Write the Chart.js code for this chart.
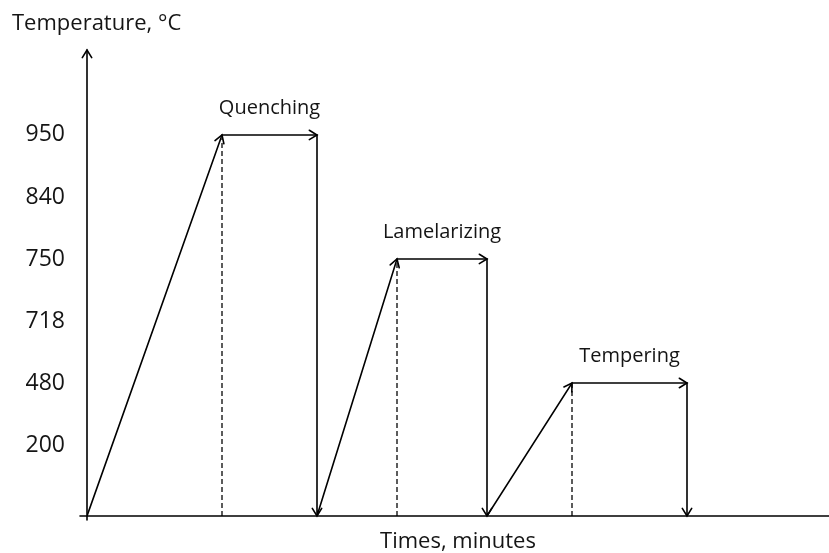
<!DOCTYPE html>
<html><head><meta charset="utf-8">
<script src="https://cdn.jsdelivr.net/npm/chart.js@4.4.0/dist/chart.umd.min.js"></script>
<style>html,body{margin:0;padding:0;background:#fff;}#wrap{width:829px;height:553px;position:relative;}</style>
</head><body><div id="wrap"><canvas id="c"></canvas></div>
<script>
// ---- data ----
const tickTemps = [200, 480, 718, 750, 840, 950];          // y tick labels, °C
const stageNames = ['Quenching', 'Lamelarizing', 'Tempering'];
const stageTemps = [950, 750, 480];                         // soak temperature
const soakStart = [27, 62, 97];                             // minutes (schematic)
const soakEnd = [46, 80, 120];
const profileTimes = [0, 27, 46, 46, 62, 80, 80, 97, 120, 120];
const profileTemps = [0, 950, 950, 0, 750, 750, 0, 480, 480, 0];

// ---- scale helpers (schematic, non-proportional temperature axis) ----
const Y_MIN = -0.145, Y_MAX = 7.37, X_MAX = 148.4;
function level(t) {
  const kt = [0].concat(tickTemps);
  const kl = [Y_MIN].concat(tickTemps.map((_, i) => i + 1));
  for (let i = 0; i < kt.length - 1; i++) {
    if (t <= kt[i + 1]) return kl[i] + (t - kt[i]) / (kt[i + 1] - kt[i]) * (kl[i + 1] - kl[i]);
  }
  return kl[kl.length - 1];
}
const TXT = '#151515';
const FONT = '"Open Sans", sans-serif';

const profileData = profileTimes.map((t, i) => ({x: t, y: level(profileTemps[i])}));
const dashData = [];
soakStart.forEach((t, i) => {
  dashData.push({x: t, y: level(0)}, {x: t, y: level(stageTemps[i])}, {x: t, y: null});
});

function arrowHead(ctx, x1, y1, x2, y2, L, s) {
  const a = Math.atan2(y2 - y1, x2 - x1);
  ctx.beginPath();
  ctx.moveTo(x2 - L * Math.cos(a - s), y2 - L * Math.sin(a - s));
  ctx.lineTo(x2, y2);
  ctx.lineTo(x2 - L * Math.cos(a + s), y2 - L * Math.sin(a + s));
  ctx.stroke();
}

const diagram = {
  id: 'diagram',
  afterDatasetsDraw(chart) {
    const ctx = chart.ctx, xs = chart.scales.x, ys = chart.scales.y;
    ctx.save();
    ctx.strokeStyle = '#000';
    ctx.lineWidth = 1.6;
    ctx.lineCap = 'round';
    // axes
    const x0 = xs.getPixelForValue(0), yb = ys.getPixelForValue(Y_MIN);
    ctx.beginPath();
    ctx.moveTo(x0 - 7, yb); ctx.lineTo(chart.width, yb);
    ctx.moveTo(x0, yb + 4); ctx.lineTo(x0, ys.top);
    ctx.stroke();
    arrowHead(ctx, x0, yb, x0, ys.top, 9, 0.55);
    // arrowheads on profile segments
    const pts = chart.getDatasetMeta(1).data;
    for (let i = 1; i < pts.length; i++) {
      arrowHead(ctx, pts[i - 1].x, pts[i - 1].y, pts[i].x, pts[i].y, 9, 0.55);
    }
    // stage labels
    ctx.fillStyle = TXT;
    ctx.font = '20px ' + FONT;
    ctx.textAlign = 'center';
    ctx.textBaseline = 'middle';
    stageNames.forEach((n, i) => {
      const cx = xs.getPixelForValue((soakStart[i] + soakEnd[i]) / 2);
      const cy = ys.getPixelForValue(level(stageTemps[i])) - 27;
      ctx.fillText(n, cx, cy);
    });
    ctx.restore();
  }
};

new Chart(document.getElementById('c'), {
  type: 'line',
  data: {
    datasets: [
      {data: dashData, borderColor: '#333', borderWidth: 1.6, borderDash: [5, 3], pointRadius: 0, spanGaps: false},
      {data: profileData, borderColor: '#000', borderWidth: 1.6, pointRadius: 0, tension: 0}
    ]
  },
  options: {
    responsive: true, maintainAspectRatio: false, animation: false,
    layout: {padding: {left: 12, right: 0, top: 0, bottom: 0}},
    plugins: {
      legend: {display: false}, tooltip: {enabled: false},
      title: {display: true, text: 'Temperature, °C', align: 'start', color: TXT,
        font: {family: FONT, size: 22, weight: 'normal'}, padding: {top: 10.8, bottom: 12.8}}
    },
    scales: {
      x: {type: 'linear', min: 0, max: X_MAX, grid: {display: false}, border: {display: false},
        ticks: {display: false},
        title: {display: true, text: 'Times, minutes', color: TXT, font: {family: FONT, size: 22}, padding: {top: 0, bottom: -2}},
        afterFit(s) { s.height = 37; }
      },
      y: {type: 'linear', min: Y_MIN, max: Y_MAX, grid: {display: false}, border: {display: false},
        afterBuildTicks(s) { s.ticks = tickTemps.map((t, i) => ({value: i + 1})); },
        ticks: {color: TXT, font: {family: FONT, size: 23}, padding: 14,
          callback(v) { return String(tickTemps[Math.round(v) - 1]); }},
        afterFit(s) { s.width = 75; }
      }
    }
  },
  plugins: [diagram]
});
</script></body></html>
